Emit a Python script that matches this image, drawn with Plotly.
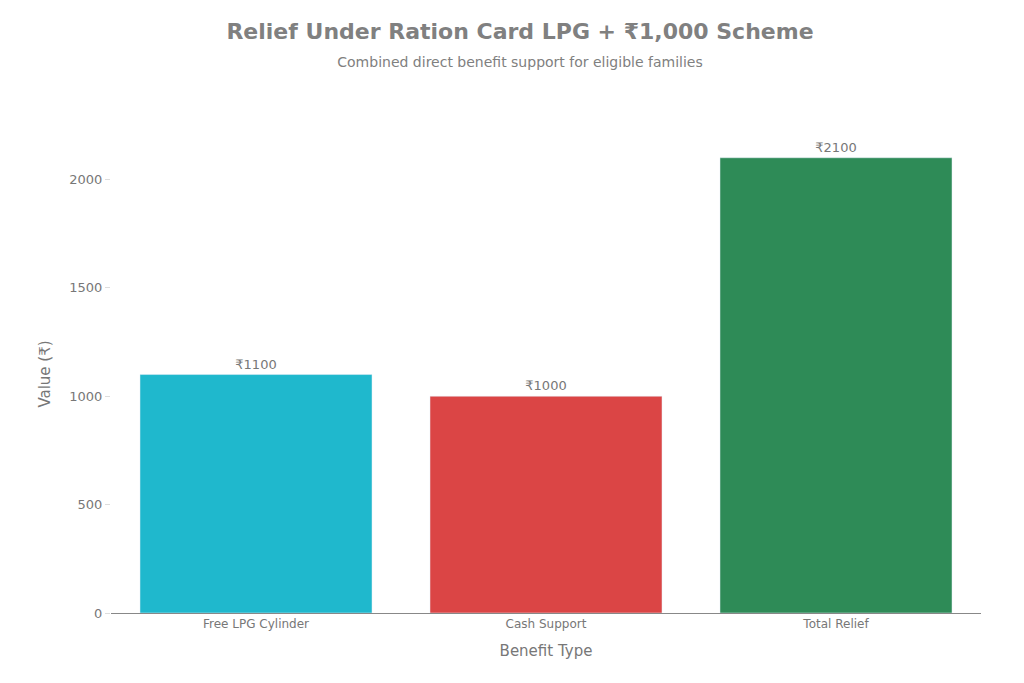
import plotly.graph_objects as go

categories = ["Free LPG Cylinder", "Cash Support", "Total Relief"]
values = [1100, 1000, 2100]
labels = ["₹1100", "₹1000", "₹2100"]
colors = ["#1FB8CD", "#DB4545", "#2E8B57"]

fig = go.Figure(go.Bar(x=categories, y=values, marker_color=colors, text=labels,
                       textposition="outside", textfont=dict(size=13, color="#777"),
                       cliponaxis=False))
fig.update_layout(
    width=1024, height=683, paper_bgcolor="white", plot_bgcolor="white",
    font=dict(family="DejaVu Sans", color="#777", size=12),
    title=dict(text="<b>Relief Under Ration Card LPG + ₹1,000 Scheme</b><br><span style='font-size:14px'>Combined direct benefit support for eligible families</span>",
               x=0.5, xanchor="center", y=0.955, yanchor="top", font=dict(size=22, color="#808080")),
    margin=dict(l=103, r=51, t=127, b=78),
    bargap=0.2, showlegend=False,
    xaxis=dict(title=dict(text="Benefit Type", font=dict(size=15)), showline=True, linecolor="#888",
               showgrid=False, tickfont=dict(size=12)),
    yaxis=dict(title=dict(text="Value (₹)", font=dict(size=15)), range=[0, 2205], dtick=500,
               showgrid=False, zeroline=False, ticks="outside", ticklen=5, tickcolor="#ddd",
               tickfont=dict(size=13)),
)
fig.write_html("out.html")
